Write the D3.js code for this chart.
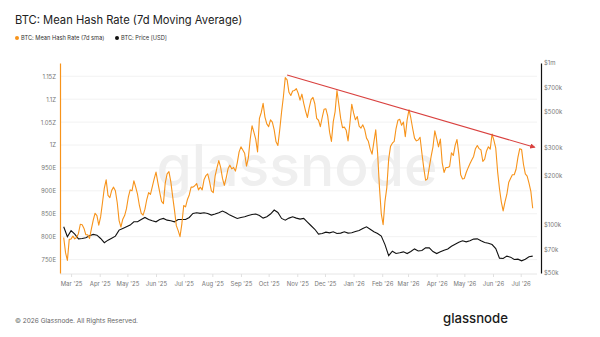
<!DOCTYPE html>
<html>
<head>
<meta charset="utf-8">
<script src="https://cdn.jsdelivr.net/npm/d3@7"></script>
<style>
  body { margin: 0; background: #fff; }
  svg { display: block; font-family: Inter, "Noto Sans", sans-serif; }
</style>
</head>
<body>
<div id="chart"></div>
<script>
// hash rate, 7d sma, in EH/s (E), one value every 2 days from 2025-02-21
var hashStart = "2025-02-21";
var hashStepDays = 2;
var hashValues = [
  798, 765, 748, 794, 795, 801, 795, 798, 807, 827, 826, 818, 804, 804, 796, 817, 836, 851, 846, 825,
  843, 874, 906, 924, 890, 885, 901, 908, 900, 874, 835, 821, 838, 846, 861, 886, 902, 900, 922, 908,
  892, 868, 851, 847, 860, 881, 896, 892, 909, 926, 941, 918, 897, 877, 872, 917, 937, 942, 920, 888,
  858, 824, 813, 800, 828, 868, 865, 881, 891, 908, 908, 911, 916, 902, 908, 902, 924, 933, 937, 920,
  900, 896, 932, 950, 966, 951, 927, 912, 928, 948, 956, 948, 951, 943, 961, 985, 996, 989, 982, 954,
  972, 1012, 1042, 1028, 1013, 985, 1058, 1071, 1091, 1061, 1046, 1040, 1055, 1050, 1033, 1007, 999, 1033, 1072, 1106,
  1147, 1142, 1115, 1108, 1118, 1119, 1123, 1113, 1098, 1111, 1091, 1074, 1060, 1082, 1099, 1104, 1090, 1058, 1054, 1040,
  1060, 1078, 1079, 1063, 1028, 1008, 1051, 1073, 1119, 1089, 1058, 1038, 1039, 1032, 1009, 1047, 1089, 1070, 1055, 1062,
  1041, 1037, 1044, 1034, 1015, 1008, 991, 980, 1007, 1033, 983, 908, 850, 826, 877, 907, 969, 997, 1004, 1008,
  1036, 1054, 1056, 1043, 1050, 1018, 1055, 1077, 1059, 1036, 1015, 1009, 1011, 1017, 982, 950, 923, 926, 951, 975,
  996, 1031, 1014, 996, 1013, 961, 940, 951, 951, 953, 983, 977, 999, 1012, 980, 935, 926, 927, 940, 950,
  959, 967, 975, 992, 999, 992, 989, 964, 969, 987, 996, 991, 1024, 1010, 993, 942, 905, 876, 856, 876,
  892, 918, 927, 935, 935, 947, 973, 992, 990, 958, 937, 932, 917, 899, 862
];

// BTC price in USD, one value every 4 days from 2025-02-21
var priceStart = "2025-02-21";
var priceStepDays = 4;
var priceValues = [
  96700, 83800, 91400, 87100, 81400, 81800, 82600, 85000, 86700, 85800, 81800, 77000, 79900, 82200, 84600, 92200,
  94400, 96700, 99000, 103800, 103800, 107300, 110400, 107300, 105300, 103800, 107300, 108900, 106300, 105300, 103800, 107300,
  107300, 107300, 110400, 117000, 118100, 117000, 118100, 117000, 114200, 115900, 118100, 121000, 118100, 114200, 111500, 108900,
  110400, 111500, 113600, 115300, 115900, 113600, 109400, 111500, 115900, 122700, 118600, 108900, 106300, 109400, 111500, 109400,
  107800, 108900, 103300, 98100, 93300, 87100, 87900, 89600, 88700, 90000, 87900, 88300, 90000, 88300, 88700, 90400,
  91800, 94400, 96700, 93300, 90000, 87900, 84600, 75000, 64000, 68200, 66000, 66700, 67600, 66000, 67900, 70500,
  68500, 68900, 71600, 71600, 67900, 66000, 67600, 69200, 70500, 73300, 75400, 77600, 79200, 78000, 79200, 81100,
  81400, 79200, 77200, 76500, 75000, 70900, 61800, 61500, 63600, 62700, 60600, 60900, 59500, 60900, 63000, 63600
];

// red trend line over the hash rate peaks
var trendDates = ["2025-10-21", "2026-07-16"];
var trendValues = [1153, 995];

var hashTicks = [750, 800, 850, 900, 950, 1000, 1050, 1100, 1150];
var hashTickLabels = ["750E", "800E", "850E", "900E", "950E", "1Z", "1.05Z", "1.1Z", "1.15Z"];
var priceTicks = [50000, 70000, 100000, 200000, 300000, 500000, 700000, 1000000];
var priceTickLabels = ["$50k", "$70k", "$100k", "$200k", "$300k", "$500k", "$700k", "$1m"];

var title = "BTC: Mean Hash Rate (7d Moving Average)";
var seriesNames = ["BTC: Mean Hash Rate (7d sma)", "BTC: Price [USD]"];
var seriesColors = ["#f7931a", "#111111"];

var width = 600, height = 337;
var plotLeft = 60, plotRight = 541, plotTop = 63, plotBottom = 273;

var parse = d3.utcParse("%Y-%m-%d");

var hashData = hashValues.map(function (v, i) {
    return { date: d3.utcDay.offset(parse(hashStart), i * hashStepDays), value: v };
});
var priceData = priceValues.map(function (v, i) {
    return { date: d3.utcDay.offset(parse(priceStart), i * priceStepDays), value: v };
});

var svg = d3.select("#chart").append("svg")
    .attr("width", width)
    .attr("height", height);

var x = d3.scaleUtc()
    .domain([parse("2025-02-17"), parse("2026-07-23")])
    .range([plotLeft, plotRight]);

var yHash = d3.scaleLinear()
    .domain([720.6, 1179])
    .range([plotBottom, plotTop]);

var yPrice = d3.scaleLog()
    .domain([50000, 1000000])
    .range([plotBottom, plotTop]);

// title + legend
svg.append("text")
    .attr("x", 15).attr("y", 24)
    .attr("font-size", 11.2)
    .attr("fill", "#222")
    .text(title);

var legend = svg.append("g");
var lx = [17, 117];
seriesNames.forEach(function (name, i) {
    legend.append("circle")
        .attr("cx", lx[i]).attr("cy", 38).attr("r", 2)
        .attr("fill", seriesColors[i]);
    legend.append("text")
        .attr("x", lx[i] + 4).attr("y", 40)
        .attr("font-size", 5.7)
        .attr("fill", "#333")
        .text(name);
});

// gridlines
svg.append("g")
    .selectAll("line")
    .data(hashTicks)
    .enter()
    .append("line")
    .attr("x1", plotLeft + 1).attr("x2", 537)
    .attr("y1", function (d) { return yHash(d); })
    .attr("y2", function (d) { return yHash(d); })
    .attr("stroke", "#efefef")
    .attr("stroke-width", 0.8);

// watermark
svg.append("text")
    .attr("x", 297).attr("y", 186)
    .attr("text-anchor", "middle")
    .attr("font-size", 57)
    .attr("font-weight", 500)
    .attr("fill", "#efefef")
    .text("glassnode");

// x axis
var xAxis = d3.axisBottom(x)
    .ticks(d3.utcMonth.every(1))
    .tickFormat(d3.utcFormat("%b '%y"))
    .tickSize(3)
    .tickPadding(5);

var gx = svg.append("g")
    .attr("transform", "translate(0," + 274 + ")")
    .call(xAxis);
gx.select(".domain").attr("stroke", "#e6e6e6").attr("d", "M" + plotLeft + ",0H537");
gx.selectAll(".tick line").attr("stroke", "#e0e0e0");
gx.selectAll(".tick text").attr("fill", "#777").attr("font-size", 6).attr("font-family", "Inter, sans-serif");

// left axis
var yAxisL = d3.axisLeft(yHash)
    .tickValues(hashTicks)
    .tickFormat(function (d, i) { return hashTickLabels[i]; })
    .tickSize(0)
    .tickPadding(4);
var gl = svg.append("g")
    .attr("transform", "translate(" + plotLeft + ",0)")
    .call(yAxisL);
gl.select(".domain").attr("stroke", seriesColors[0]).attr("stroke-width", 1.2);
gl.selectAll(".tick text").attr("fill", "#777").attr("font-size", 6).attr("font-family", "Inter, sans-serif");

// right axis
var yAxisR = d3.axisRight(yPrice)
    .tickValues(priceTicks)
    .tickFormat(function (d, i) { return priceTickLabels[i]; })
    .tickSize(0)
    .tickPadding(3);
var gr = svg.append("g")
    .attr("transform", "translate(" + plotRight + ",0)")
    .call(yAxisR);
gr.select(".domain").attr("stroke", "#111").attr("stroke-width", 1.2);
gr.selectAll(".tick text").attr("fill", "#777").attr("font-size", 6).attr("font-family", "Inter, sans-serif");

// lines
var hashLine = d3.line()
    .x(function (d) { return x(d.date); })
    .y(function (d) { return yHash(d.value); });
var priceLine = d3.line()
    .x(function (d) { return x(d.date); })
    .y(function (d) { return yPrice(d.value); });

svg.append("path")
    .datum(priceData)
    .attr("d", priceLine)
    .attr("fill", "none")
    .attr("stroke", seriesColors[1])
    .attr("stroke-width", 1.1);

svg.append("path")
    .datum(hashData)
    .attr("d", hashLine)
    .attr("fill", "none")
    .attr("stroke", seriesColors[0])
    .attr("stroke-width", 1.1)
    .attr("stroke-linejoin", "round");

// trend arrow
svg.append("defs").append("marker")
    .attr("id", "arrow")
    .attr("viewBox", "0 0 10 10")
    .attr("refX", 8).attr("refY", 5)
    .attr("markerWidth", 5).attr("markerHeight", 5)
    .attr("orient", "auto")
    .append("path")
    .attr("d", "M0,0L10,5L0,10z")
    .attr("fill", "#d9413f");

svg.append("line")
    .attr("x1", x(parse(trendDates[0]))).attr("y1", yHash(trendValues[0]))
    .attr("x2", x(parse(trendDates[1]))).attr("y2", yHash(trendValues[1]))
    .attr("stroke", "#d9413f")
    .attr("stroke-width", 1.1)
    .attr("marker-end", "url(#arrow)");

// footer
svg.append("text")
    .attr("x", 15).attr("y", 323)
    .attr("font-size", 6.5)
    .attr("fill", "#666")
    .text("© 2026 Glassnode. All Rights Reserved.");

svg.append("text")
    .attr("x", 508).attr("y", 323)
    .attr("text-anchor", "end")
    .attr("font-size", 13.2)
    .attr("font-weight", 500)
    .attr("fill", "#1a1a1a")
    .text("glassnode");
</script>
</body>
</html>
